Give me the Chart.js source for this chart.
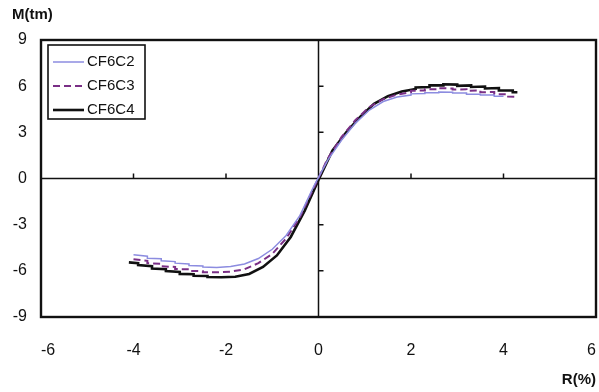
<!DOCTYPE html>
<html><head><meta charset="utf-8">
<script src="https://cdn.jsdelivr.net/npm/chart.js@4/dist/chart.umd.min.js"></script>
<style>html,body{margin:0;padding:0;background:#fff}#wrap{width:599px;height:392px}</style>
</head><body><div id="wrap"><canvas id="c" width="599" height="392"></canvas></div>
<script>
const seriesNames = ["CF6C2", "CF6C3", "CF6C4"];
const xTicks = [-6, -4, -2, 0, 2, 4, 6];
const yTicks = [-9, -6, -3, 0, 3, 6, 9];
const xTitle = "R(%)";
const yTitle = "M(tm)";

const c2X = [-4.0,-3.7,-3.7,-3.4,-3.4,-3.1,-3.1,-2.8,-2.8,-2.5,-2.5,-2.2,-1.9,-1.6,-1.3,-1.0,-0.7,-0.4,-0.1,0.2,0.5,0.8,1.1,1.4,1.7,2.0,2.0,2.3,2.3,2.6,2.6,2.9,2.9,3.2,3.2,3.5,3.5,3.8,3.8,4.0];
const c2Y = [-4.95,-5.05,-5.18,-5.22,-5.35,-5.4,-5.5,-5.55,-5.65,-5.68,-5.75,-5.78,-5.72,-5.55,-5.2,-4.6,-3.7,-2.4,-0.5,1.2,2.5,3.6,4.45,5.0,5.3,5.42,5.5,5.52,5.58,5.58,5.62,5.6,5.55,5.55,5.48,5.48,5.42,5.42,5.35,5.35];

const c3X = [-4.0,-3.7,-3.7,-3.4,-3.4,-3.1,-3.1,-2.8,-2.8,-2.5,-2.5,-2.2,-1.9,-1.6,-1.3,-1.0,-0.7,-0.4,-0.1,0.2,0.5,0.8,1.1,1.4,1.7,2.0,2.0,2.3,2.3,2.6,2.6,2.9,2.9,3.2,3.2,3.5,3.5,3.8,3.8,4.1,4.1,4.3];
const c3Y = [-5.25,-5.35,-5.5,-5.55,-5.7,-5.75,-5.88,-5.9,-6.0,-6.02,-6.1,-6.1,-6.05,-5.9,-5.5,-4.9,-3.9,-2.5,-0.6,1.3,2.7,3.8,4.65,5.15,5.45,5.6,5.7,5.72,5.8,5.8,5.87,5.85,5.78,5.8,5.7,5.72,5.6,5.62,5.48,5.48,5.32,5.3];

const c4X = [-4.1,-3.9,-3.9,-3.6,-3.6,-3.3,-3.3,-3.0,-3.0,-2.7,-2.7,-2.4,-2.4,-2.1,-1.8,-1.5,-1.2,-0.9,-0.6,-0.3,0.0,0.3,0.6,0.9,1.2,1.5,1.8,2.1,2.1,2.4,2.4,2.7,2.7,3.0,3.0,3.3,3.3,3.6,3.6,3.9,3.9,4.2,4.2,4.3];
const c4Y = [-5.45,-5.5,-5.62,-5.7,-5.85,-5.9,-6.02,-6.08,-6.2,-6.22,-6.32,-6.33,-6.4,-6.42,-6.38,-6.2,-5.75,-5.0,-3.8,-2.1,-0.1,1.8,3.0,4.0,4.85,5.35,5.65,5.82,5.92,5.95,6.05,6.05,6.12,6.1,6.02,6.05,5.95,5.98,5.85,5.88,5.72,5.72,5.6,5.6];

function pts(xs, ys){ return xs.map((x,i)=>({x:x, y:ys[i]})); }

const FONT = "'Liberation Sans', Arial, sans-serif";
const styles = [
  {color:"#8c8ce0", width:1.5, dash:[]},
  {color:"#7a2f86", width:2, dash:[7,4]},
  {color:"#111111", width:2.6, dash:[]}
];

const decor = {
  id:'decor',
  beforeDatasetsDraw(chart){
    const ctx = chart.ctx, a = chart.chartArea, xs = chart.scales.x, ys = chart.scales.y;
    const x0 = xs.getPixelForValue(0), y0 = ys.getPixelForValue(0);
    ctx.save();
    ctx.strokeStyle = "#111"; ctx.lineWidth = 1.5;
    ctx.beginPath();
    ctx.moveTo(x0, a.top); ctx.lineTo(x0, a.bottom);
    ctx.moveTo(a.left, y0); ctx.lineTo(a.right, y0);
    xTicks.forEach(v=>{ if(v!==0 && v>xs.min && v<xs.max){ const p = xs.getPixelForValue(v); ctx.moveTo(p, y0); ctx.lineTo(p, y0-5);} });
    yTicks.forEach(v=>{ if(v!==0 && v>ys.min && v<ys.max){ const p = ys.getPixelForValue(v); ctx.moveTo(x0, p); ctx.lineTo(x0+5, p);} });
    ctx.stroke();
    ctx.restore();
  },
  afterDraw(chart){
    const ctx = chart.ctx, a = chart.chartArea;
    ctx.save();
    ctx.strokeStyle = "#111"; ctx.lineWidth = 2.4;
    ctx.strokeRect(a.left, a.top, a.right-a.left, a.bottom-a.top);
    // legend box
    const lx = 48, ly = 45, lw = 97, lh = 74;
    ctx.fillStyle = "#fff"; ctx.fillRect(lx, ly, lw, lh);
    ctx.lineWidth = 1.6; ctx.strokeRect(lx, ly, lw, lh);
    ctx.font = "15px " + FONT; ctx.textBaseline = "middle"; ctx.textAlign = "left";
    chart.data.datasets.forEach((ds, i)=>{
      const yy = 62 + i*24, st = styles[i];
      ctx.strokeStyle = st.color; ctx.lineWidth = st.width; ctx.setLineDash(st.dash);
      ctx.beginPath(); ctx.moveTo(53, yy); ctx.lineTo(84, yy); ctx.stroke();
      ctx.setLineDash([]);
      ctx.fillStyle = "#111"; ctx.fillText(ds.label, 87, yy);
    });
    // axis titles
    ctx.font = "bold 15px " + FONT;
    ctx.fillStyle = "#111";
    ctx.textAlign = "left"; ctx.fillText(yTitle, 12, 15);
    ctx.textAlign = "right"; ctx.fillText(xTitle, 596, 380);
    ctx.restore();
  }
};

new Chart(document.getElementById('c'), {
  type:'scatter',
  data:{ datasets:[
    {label:seriesNames[0], data:pts(c2X,c2Y)},
    {label:seriesNames[1], data:pts(c3X,c3Y)},
    {label:seriesNames[2], data:pts(c4X,c4Y)}
  ].map((d,i)=>Object.assign(d,{showLine:true, pointRadius:0, borderColor:styles[i].color, borderWidth:styles[i].width, borderDash:styles[i].dash, tension:0, fill:false})) },
  options:{
    responsive:false, animation:false, devicePixelRatio:1,
    layout:{padding:{top:40, right:3, left:0, bottom:0}},
    plugins:{legend:{display:false}, tooltip:{enabled:false}},
    scales:{
      x:{ type:'linear', min:-6, max:6,
        afterBuildTicks(s){ s.ticks = xTicks.map(v=>({value:v})); },
        afterFit(s){ s.height = 75; s.paddingLeft = 0; s.paddingRight = 0; },
        grid:{display:false, drawTicks:false}, border:{display:false},
        ticks:{padding:24, align:'inner', color:"#111", font:{family:FONT, size:16}, maxRotation:0} },
      y:{ type:'linear', min:-9, max:9,
        afterBuildTicks(s){ s.ticks = yTicks.map(v=>({value:v})); },
        afterFit(s){ s.width = 41; s.paddingTop = 0; s.paddingBottom = 0; },
        grid:{display:false, drawTicks:false}, border:{display:false},
        ticks:{padding:14, color:"#111", font:{family:FONT, size:16}} }
    }
  },
  plugins:[decor]
});
</script></body></html>
